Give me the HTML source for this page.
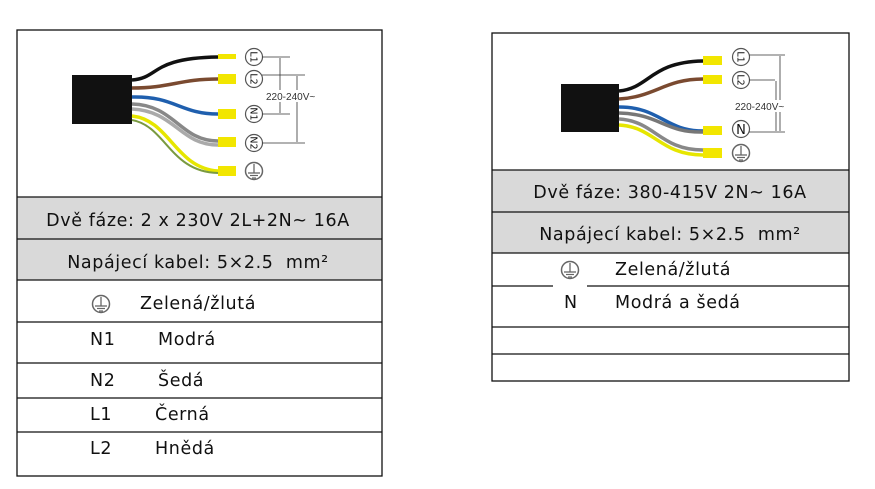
<!DOCTYPE html>
<html><head><meta charset="utf-8"><style>
html,body{margin:0;padding:0;background:#fff;width:875px;height:489px;overflow:hidden}
svg{display:block}
text{font-family:"DejaVu Sans","Liberation Sans",sans-serif;fill:#111}
.t{font-size:17.5px;letter-spacing:0.6px}
.s{font-family:"Liberation Sans",sans-serif;font-size:10px;fill:#333}
.c{font-size:9.5px}
</style></head><body>
<svg width="875" height="489" viewBox="0 0 875 489" xmlns="http://www.w3.org/2000/svg">
<defs>
<g id="gnd"><circle r="8.5" fill="#fff" stroke="#666" stroke-width="1.5"/><line x1="0" y1="-7" x2="0" y2="2" stroke="#666" stroke-width="1.3"/><line x1="-6" y1="2" x2="6" y2="2" stroke="#666" stroke-width="1.3"/><line x1="-4" y1="4.5" x2="4" y2="4.5" stroke="#666" stroke-width="1.2"/><line x1="-2" y1="7" x2="2" y2="7" stroke="#666" stroke-width="1.2"/></g>
</defs>
<!-- LEFT TABLE -->
<rect x="17" y="197" width="365" height="83" fill="#d9d9d9"/>
<rect x="17" y="30" width="365" height="446" fill="none" stroke="#111" stroke-width="1.3"/>
<g stroke="#111" stroke-width="1.3">
<line x1="17" y1="197" x2="382" y2="197"/><line x1="17" y1="239" x2="382" y2="239"/><line x1="17" y1="280" x2="382" y2="280"/><line x1="17" y1="322" x2="382" y2="322"/><line x1="17" y1="363" x2="382" y2="363"/><line x1="17" y1="398" x2="382" y2="398"/><line x1="17" y1="432" x2="382" y2="432"/>
</g>
<text x="198" y="226" class="t" text-anchor="middle">Dvě fáze: 2 x 230V 2L+2N~ 16A</text>
<text x="198" y="268" class="t" text-anchor="middle">Napájecí kabel: 5×2.5&#160;&#160;mm²</text>
<use href="#gnd" x="101" y="304"/>
<text x="140" y="309" class="t">Zelená/žlutá</text>
<text x="90" y="345" class="t">N1</text><text x="158" y="345" class="t">Modrá</text>
<text x="90" y="386" class="t">N2</text><text x="158" y="386" class="t">Šedá</text>
<text x="90" y="420" class="t">L1</text><text x="155" y="420" class="t">Černá</text>
<text x="90" y="454" class="t">L2</text><text x="155" y="454" class="t">Hnědá</text>
<!-- left diagram -->
<rect x="72" y="75" width="60" height="49" fill="#111"/>
<g fill="none" stroke-width="3.5">
<path d="M132 80 C160 78,150 58,218 57" stroke="#111"/>
<path d="M132 88 C170 88,180 79,218 79" stroke="#7a4a30"/>
<path d="M132 97 C175 96,180 114,218 114" stroke="#1f5fae"/>
<path d="M132 104 C175 105,180 141,218 141" stroke="#888"/>
<path d="M132 109 C175 111,180 145,218 145" stroke="#aaa"/>
<path d="M132 116 C170 120,175 168,218 171" stroke="#e6e600"/>
<path d="M132 120 C166 126,170 172,218 173" stroke="#7a9a40" stroke-width="2"/>
</g>
<g fill="#f2e600"><rect x="218" y="54" width="18" height="5"/><rect x="218" y="74" width="18" height="10"/><rect x="218" y="109" width="18" height="10"/><rect x="218" y="137" width="18" height="10"/><rect x="218" y="166" width="18" height="10"/></g>
<g fill="#fff" stroke="#555" stroke-width="1.2"><circle cx="254" cy="57" r="8.5"/><circle cx="254" cy="79" r="8.5"/><circle cx="254" cy="114" r="8.5"/><circle cx="254" cy="143" r="8.5"/></g>
<use href="#gnd" x="254" y="171"/>
<g class="c" text-anchor="middle"><text x="254" y="60.5" transform="rotate(90 254 57)">L1</text><text x="254" y="82.5" transform="rotate(90 254 79)">L2</text><text x="254" y="117.5" transform="rotate(90 254 114)">N1</text><text x="254" y="146.5" transform="rotate(90 254 143)">N2</text></g>
<g stroke="#333" stroke-width="0.8"><line x1="262" y1="57" x2="290" y2="57"/><line x1="262" y1="75" x2="305" y2="75"/><line x1="262" y1="114" x2="290" y2="114"/><line x1="262" y1="143" x2="305" y2="143"/><line x1="280" y1="58" x2="280" y2="113"/><line x1="297" y1="76" x2="297" y2="142"/></g>
<rect x="265" y="90" width="46" height="12" fill="#fff"/>
<text x="266" y="100" class="s">220-240V~</text>
<!-- RIGHT TABLE -->
<rect x="492" y="170" width="357" height="83" fill="#d9d9d9"/>
<rect x="492" y="33" width="357" height="348" fill="none" stroke="#111" stroke-width="1.3"/>
<g stroke="#111" stroke-width="1.3">
<line x1="492" y1="170" x2="849" y2="170"/><line x1="492" y1="212" x2="849" y2="212"/><line x1="492" y1="253" x2="849" y2="253"/><line x1="492" y1="286" x2="553" y2="286"/><line x1="587" y1="286" x2="849" y2="286"/><line x1="492" y1="327" x2="849" y2="327"/><line x1="492" y1="354" x2="849" y2="354"/>
</g>
<text x="670" y="198" class="t" text-anchor="middle">Dvě fáze: 380-415V 2N~ 16A</text>
<text x="670" y="240" class="t" text-anchor="middle">Napájecí kabel: 5×2.5&#160;&#160;mm²</text>
<use href="#gnd" x="570" y="270"/>
<text x="615" y="275" class="t">Zelená/žlutá</text>
<text x="564" y="308" class="t">N</text><text x="615" y="308" class="t">Modrá a šedá</text>
<!-- right diagram -->
<rect x="561" y="84" width="58" height="48" fill="#111"/>
<g fill="none" stroke-width="3.5">
<path d="M619 91 C650 88,650 62,703 61" stroke="#111"/>
<path d="M619 99 C655 97,665 79,703 79" stroke="#7a4a30"/>
<path d="M619 107 C660 107,665 131,703 131" stroke="#1f5fae"/>
<path d="M619 113 C660 114,665 133,703 132" stroke="#777"/>
<path d="M619 119 C655 121,660 150,703 150" stroke="#888"/>
<path d="M619 125 C655 127,660 155,703 155" stroke="#e6e600"/>
</g>
<g fill="#f2e600"><rect x="703" y="56" width="19" height="9"/><rect x="703" y="75" width="19" height="9"/><rect x="703" y="126" width="19" height="9"/><rect x="703" y="148" width="19" height="10"/></g>
<g fill="#fff" stroke="#555" stroke-width="1.2"><circle cx="741" cy="57" r="8.5"/><circle cx="741" cy="80" r="8.5"/><circle cx="741" cy="129" r="8.5"/></g>
<use href="#gnd" x="741" y="153"/>
<g class="c" text-anchor="middle"><text x="741" y="60.5" transform="rotate(90 741 57)">L1</text><text x="741" y="83.5" transform="rotate(90 741 80)">L2</text></g>
<text x="741" y="134" font-size="13" text-anchor="middle">N</text>
<g stroke="#333" stroke-width="0.8"><line x1="749" y1="55" x2="785" y2="55"/><line x1="749" y1="80" x2="775" y2="80"/><line x1="749" y1="132" x2="785" y2="132"/><line x1="776" y1="81" x2="776" y2="131"/><line x1="780" y1="56" x2="780" y2="131"/></g>
<rect x="734" y="100" width="48" height="12" fill="#fff"/>
<text x="735" y="110" class="s">220-240V~</text>
</svg>
</body></html>
